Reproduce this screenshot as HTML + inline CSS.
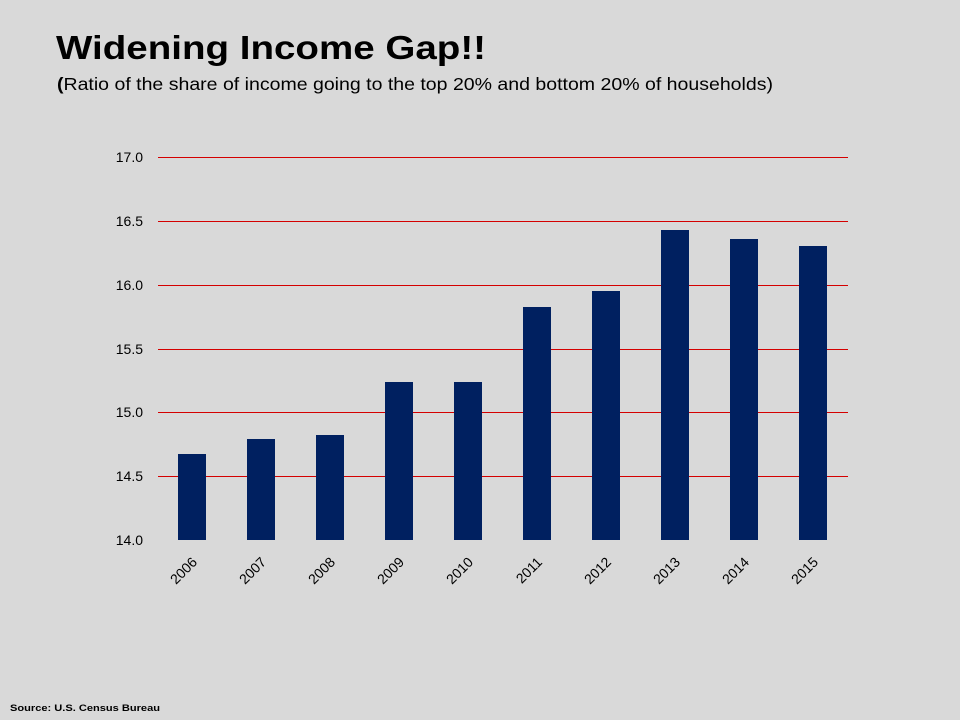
<!DOCTYPE html>
<html><head><meta charset="utf-8"><style>
html,body{margin:0;padding:0;background:#d9d9d9;}
body{width:960px;height:720px;overflow:hidden;position:relative;font-family:"Liberation Sans",Arial,sans-serif;}
.g{position:absolute;left:158px;width:690px;height:1px;background:#d40000;}
</style></head><body>
<div class="g" style="top:157px"></div>
<div class="g" style="top:221px"></div>
<div class="g" style="top:285px"></div>
<div class="g" style="top:349px"></div>
<div class="g" style="top:412px"></div>
<div class="g" style="top:476px"></div>
<svg width="960" height="720" xmlns="http://www.w3.org/2000/svg" style="position:absolute;left:0;top:0">
<text x="56" y="59" font-family="Liberation Sans,Arial,sans-serif" font-weight="bold" font-size="33" fill="#000" textLength="430" lengthAdjust="spacingAndGlyphs">Widening Income Gap!!</text>
<text x="57" y="90" font-family="Liberation Sans,Arial,sans-serif" font-size="17.5" fill="#000" textLength="716" lengthAdjust="spacingAndGlyphs"><tspan font-weight="bold">(</tspan>Ratio of the share of income going to the top 20% and bottom 20% of households)</text>
<g font-family="Liberation Sans,Arial,sans-serif" font-size="14" fill="#000" text-anchor="end">
<text x="143" y="162">17.0</text>
<text x="143" y="226">16.5</text>
<text x="143" y="290">16.0</text>
<text x="143" y="354">15.5</text>
<text x="143" y="417">15.0</text>
<text x="143" y="481">14.5</text>
<text x="143" y="545">14.0</text>
</g>
<g fill="#002060">
<rect x="178" y="454" width="28" height="86"/>
<rect x="247" y="439" width="28" height="101"/>
<rect x="316" y="435" width="28" height="105"/>
<rect x="385" y="382" width="28" height="158"/>
<rect x="454" y="382" width="28" height="158"/>
<rect x="523" y="307" width="28" height="233"/>
<rect x="592" y="291" width="28" height="249"/>
<rect x="661" y="230" width="28" height="310"/>
<rect x="730" y="239" width="28" height="301"/>
<rect x="799" y="246" width="28" height="294"/>
</g>
<g font-family="Liberation Sans,Arial,sans-serif" font-size="14" fill="#000" text-anchor="end">
<text transform="translate(198,563) rotate(-45)">2006</text>
<text transform="translate(267,563) rotate(-45)">2007</text>
<text transform="translate(336,563) rotate(-45)">2008</text>
<text transform="translate(405,563) rotate(-45)">2009</text>
<text transform="translate(474,563) rotate(-45)">2010</text>
<text transform="translate(543,563) rotate(-45)">2011</text>
<text transform="translate(612,563) rotate(-45)">2012</text>
<text transform="translate(681,563) rotate(-45)">2013</text>
<text transform="translate(750,563) rotate(-45)">2014</text>
<text transform="translate(819,563) rotate(-45)">2015</text>
</g>
<text x="10" y="711" font-family="Liberation Sans,Arial,sans-serif" font-weight="bold" font-size="9.5" fill="#000" textLength="150" lengthAdjust="spacingAndGlyphs">Source: U.S. Census Bureau</text>
</svg>
</body></html>
